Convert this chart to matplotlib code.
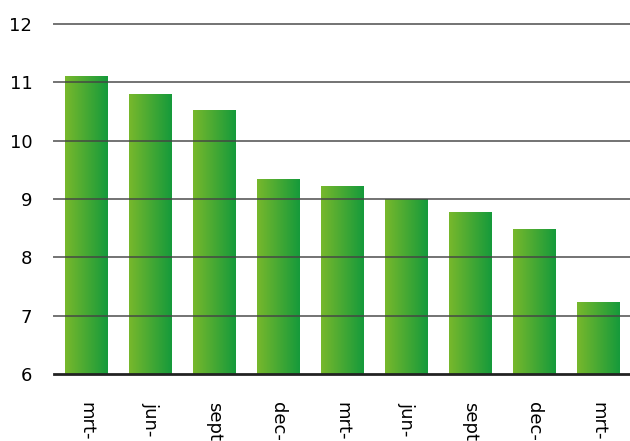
import numpy as np
import matplotlib
matplotlib.use("Agg")
import matplotlib.pyplot as plt
from matplotlib.colors import LinearSegmentedColormap

labels = ["mrt-", "jun-", "sept", "dec-", "mrt-", "jun-", "sept", "dec-", "mrt-"]
values = [11.1, 10.8, 10.53, 9.35, 9.23, 9.0, 8.77, 8.49, 7.24]
yticks = [6, 7, 8, 9, 10, 11, 12]

fig = plt.figure(figsize=(6.3, 4.41), dpi=100)
ax = fig.add_axes([0.0865, 0.152, 0.9135, 0.7936])

cmap = LinearSegmentedColormap.from_list("grn", ["#78b82c", "#159a3b"])
grad = np.linspace(0, 1, 256).reshape(1, -1)
x = np.arange(len(values))
w = 0.66
bars = ax.bar(x, values, width=w, bottom=0, color="none", zorder=1)
for b in bars:
    x0, y0 = b.get_x(), 6
    x1, y1 = x0 + b.get_width(), b.get_height()
    im = ax.imshow(grad, cmap=cmap, extent=[x0, x1, y0, y1], aspect="auto", zorder=1)
    im.set_clip_path(b)

ax.set_xlim(-0.5, len(values) - 0.5)
ax.set_ylim(6, 12)
ax.set_yticks(yticks)
ax.set_yticklabels([str(t) for t in yticks], fontsize=13)
ax.set_xticks(x)
ax.set_xticklabels(labels, rotation=270, fontsize=13, va="top", ha="center")
ax.tick_params(axis="both", length=0)
ax.tick_params(axis="x", pad=20)
ax.tick_params(axis="y", pad=16)

for t in yticks[1:]:
    ax.axhline(t, color="#444444", lw=1.4, alpha=0.75, zorder=3, clip_on=False)

for s in ["top", "right", "left"]:
    ax.spines[s].set_visible(False)
ax.spines["bottom"].set_linewidth(2)
ax.spines["bottom"].set_color("#222222")
ax.spines["bottom"].set_zorder(4)

fig.savefig("out.png", dpi=100)
